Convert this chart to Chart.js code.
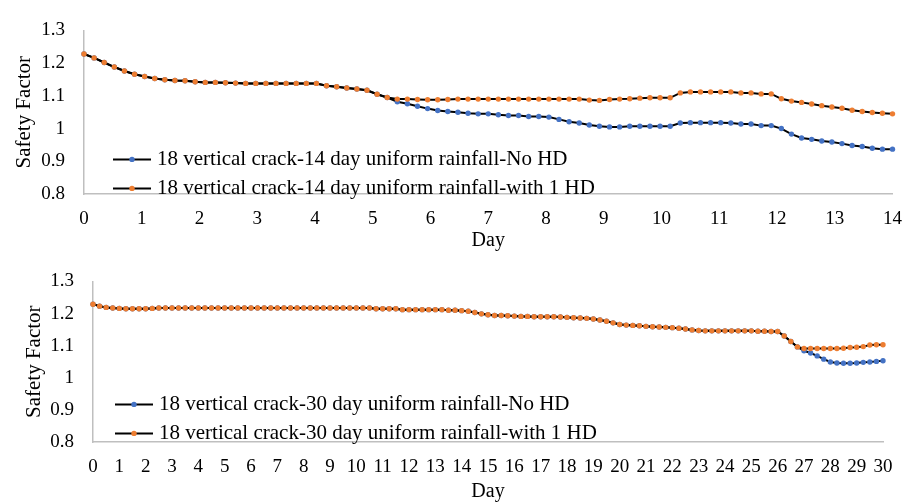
<!DOCTYPE html>
<html>
<head>
<meta charset="utf-8">
<title>Safety Factor</title>
<script src="https://cdn.jsdelivr.net/npm/chart.js@4.4.1/dist/chart.umd.min.js"></script>
<style>
  html, body { margin: 0; padding: 0; background: #fff; }
  .panel { width: 916px; height: 251px; position: relative; }
  canvas { display: block; }
</style>
</head>
<body>
<div class="panel"><canvas id="top" width="916" height="251"></canvas></div>
<div class="panel"><canvas id="bottom" width="916" height="251"></canvas></div>
<script>
// ---- 14 day rainfall (time step 0.175 day) ----
const step14 = 0.175;
const label14NoHD = '18 vertical crack-14 day uniform rainfall-No HD';
const label14HD = '18 vertical crack-14 day uniform rainfall-with 1 HD';
const sf14NoHD = [
  1.228, 1.216, 1.202, 1.188, 1.176, 1.166, 1.159, 1.153, 1.149, 1.147,
  1.146, 1.143, 1.141, 1.141, 1.140, 1.139, 1.138, 1.138, 1.138, 1.138,
  1.138, 1.138, 1.138, 1.138, 1.131, 1.128, 1.124, 1.121, 1.117, 1.105,
  1.095, 1.082, 1.076, 1.068, 1.061, 1.055, 1.052, 1.050, 1.047, 1.045,
  1.045, 1.042, 1.040, 1.040, 1.037, 1.037, 1.035, 1.028, 1.021, 1.017,
  1.011, 1.007, 1.005, 1.005, 1.007, 1.007, 1.007, 1.007, 1.007, 1.017,
  1.018, 1.018, 1.018, 1.018, 1.017, 1.014, 1.014, 1.009, 1.009, 1.000,
  0.983, 0.971, 0.967, 0.962, 0.959, 0.954, 0.948, 0.945, 0.940, 0.937,
  0.937
];
const sf14HD = [
  1.228, 1.216, 1.202, 1.188, 1.176, 1.166, 1.159, 1.153, 1.149, 1.147,
  1.146, 1.143, 1.141, 1.141, 1.140, 1.139, 1.138, 1.138, 1.138, 1.138,
  1.138, 1.138, 1.138, 1.138, 1.131, 1.128, 1.124, 1.121, 1.117, 1.105,
  1.095, 1.090, 1.090, 1.089, 1.088, 1.088, 1.089, 1.090, 1.090, 1.090,
  1.090, 1.090, 1.090, 1.090, 1.090, 1.090, 1.090, 1.090, 1.090, 1.090,
  1.087, 1.086, 1.089, 1.090, 1.091, 1.093, 1.094, 1.094, 1.094, 1.109,
  1.112, 1.112, 1.112, 1.112, 1.112, 1.109, 1.109, 1.106, 1.106, 1.091,
  1.084, 1.080, 1.075, 1.070, 1.066, 1.062, 1.056, 1.052, 1.049, 1.047,
  1.045
];

// ---- 30 day rainfall (time step 0.25 day) ----
const step30 = 0.25;
const label30NoHD = '18 vertical crack-30 day uniform rainfall-No HD';
const label30HD = '18 vertical crack-30 day uniform rainfall-with 1 HD';
const sf30NoHD = [
  1.229, 1.223, 1.219, 1.217, 1.216, 1.215, 1.215, 1.215, 1.215, 1.216,
  1.217, 1.217, 1.217, 1.217, 1.217, 1.217, 1.217, 1.217, 1.217, 1.217,
  1.217, 1.217, 1.217, 1.217, 1.217, 1.217, 1.217, 1.217, 1.217, 1.217,
  1.217, 1.217, 1.217, 1.217, 1.217, 1.217, 1.217, 1.217, 1.217, 1.217,
  1.217, 1.217, 1.217, 1.215, 1.215, 1.215, 1.215, 1.212, 1.212, 1.212,
  1.212, 1.212, 1.212, 1.212, 1.210, 1.210, 1.209, 1.207, 1.203, 1.199,
  1.196, 1.194, 1.194, 1.193, 1.192, 1.191, 1.191, 1.190, 1.190, 1.190,
  1.190, 1.189, 1.188, 1.187, 1.186, 1.185, 1.183, 1.180, 1.176, 1.171,
  1.166, 1.164, 1.163, 1.162, 1.160, 1.159, 1.158, 1.157, 1.156, 1.154,
  1.152, 1.149, 1.147, 1.146, 1.146, 1.146, 1.146, 1.146, 1.146, 1.146,
  1.146, 1.145, 1.145, 1.144, 1.144, 1.130, 1.113, 1.096, 1.084, 1.077,
  1.068, 1.058, 1.049, 1.046, 1.045, 1.045, 1.046, 1.048, 1.049, 1.051,
  1.053
];
const sf30HD = [
  1.229, 1.223, 1.219, 1.217, 1.216, 1.215, 1.215, 1.215, 1.215, 1.216,
  1.217, 1.217, 1.217, 1.217, 1.217, 1.217, 1.217, 1.217, 1.217, 1.217,
  1.217, 1.217, 1.217, 1.217, 1.217, 1.217, 1.217, 1.217, 1.217, 1.217,
  1.217, 1.217, 1.217, 1.217, 1.217, 1.217, 1.217, 1.217, 1.217, 1.217,
  1.217, 1.217, 1.217, 1.215, 1.215, 1.215, 1.215, 1.212, 1.212, 1.212,
  1.212, 1.212, 1.212, 1.212, 1.210, 1.210, 1.209, 1.207, 1.203, 1.199,
  1.196, 1.194, 1.194, 1.193, 1.192, 1.191, 1.191, 1.190, 1.190, 1.190,
  1.190, 1.189, 1.188, 1.187, 1.186, 1.185, 1.183, 1.180, 1.176, 1.171,
  1.166, 1.164, 1.163, 1.162, 1.160, 1.159, 1.158, 1.157, 1.156, 1.154,
  1.152, 1.149, 1.147, 1.146, 1.146, 1.146, 1.146, 1.146, 1.146, 1.146,
  1.146, 1.145, 1.145, 1.144, 1.144, 1.130, 1.113, 1.096, 1.091, 1.091,
  1.091, 1.091, 1.091, 1.091, 1.092, 1.094, 1.095, 1.097, 1.102, 1.103,
  1.103
];

// ---- axis ticks ----
const yTicks = [0.8, 0.9, 1, 1.1, 1.2, 1.3];
const yTickLabels = ['0.8', '0.9', '1', '1.1', '1.2', '1.3'];
const xTicks14 = [0, 1, 2, 3, 4, 5, 6, 7, 8, 9, 10, 11, 12, 13, 14];
const xTicks30 = [0, 1, 2, 3, 4, 5, 6, 7, 8, 9, 10, 11, 12, 13, 14, 15,
                  16, 17, 18, 19, 20, 21, 22, 23, 24, 25, 26, 27, 28, 29, 30];
const yTitle = 'Safety Factor';
const xTitle = 'Day';

const BLUE = '#4472C4';
const ORANGE = '#ED7D31';
const SERIF = '"Liberation Serif", "Times New Roman", serif';

function toPoints(values, stepDay) {
  return values.map((v, i) => ({ x: i * stepDay, y: v }));
}

function series(label, values, stepDay, color, order) {
  return {
    label,
    data: toPoints(values, stepDay),
    borderColor: '#000000',
    borderWidth: 2,
    pointBackgroundColor: color,
    pointBorderWidth: 0,
    pointRadius: 2.7,
    pointHoverRadius: 2.7,
    tension: 0,
    clip: false,
    order
  };
}

// legend drawn inside the plot area, line + marker + text
const seriesKey = {
  id: 'seriesKey',
  afterDatasetsDraw(chart, args, opts) {
    const ctx = chart.ctx;
    const area = chart.chartArea;
    ctx.save();
    ctx.font = opts.font;
    ctx.textBaseline = 'middle';
    ctx.textAlign = 'left';
    opts.entries.forEach((idx, row) => {
      const ds = chart.data.datasets[idx];
      const y = area.top + opts.top + row * opts.rowGap;
      const x0 = area.left + opts.left;
      ctx.strokeStyle = ds.borderColor;
      ctx.lineWidth = ds.borderWidth;
      ctx.beginPath();
      ctx.moveTo(x0, y);
      ctx.lineTo(x0 + opts.lineLen, y);
      ctx.stroke();
      ctx.fillStyle = ds.pointBackgroundColor;
      ctx.beginPath();
      ctx.arc(x0 + opts.lineLen / 2, y, ds.pointRadius, 0, Math.PI * 2);
      ctx.fill();
      ctx.fillStyle = '#000000';
      ctx.fillText(ds.label, x0 + opts.lineLen + opts.gap, y);
    });
    ctx.restore();
  }
};

function makeChart(canvasId, cfg) {
  return new Chart(document.getElementById(canvasId), {
    type: 'line',
    data: { datasets: cfg.datasets },
    options: {
      responsive: false,
      animation: false,
      events: [],
      layout: { padding: { top: cfg.padTop, right: cfg.padRight, bottom: 0, left: 0 } },
      scales: {
        x: {
          type: 'linear',
          min: 0,
          max: cfg.xMax,
          afterFit: (s) => { s.height = cfg.xHeight; },
          afterBuildTicks: (s) => { s.ticks = cfg.xTicks.map(v => ({ value: v })); },
          grid: { display: false, drawTicks: false },
          border: { display: true, color: '#bfbfbf', width: 1.5 },
          ticks: {
            autoSkip: false,
            maxRotation: 0,
            padding: 14,
            color: '#000000',
            font: { family: SERIF, size: 19 },
            callback: (v) => String(v)
          },
          title: {
            display: true,
            text: xTitle,
            color: '#000000',
            padding: { top: 0, bottom: -2 },
            font: { family: SERIF, size: 20 }
          }
        },
        y: {
          min: 0.8,
          max: 1.3,
          afterFit: (s) => { s.width = cfg.yWidth; },
          afterBuildTicks: (s) => { s.ticks = yTicks.map(v => ({ value: v })); },
          grid: { display: false, drawTicks: false },
          border: { display: true, color: '#bfbfbf', width: 1.5 },
          ticks: {
            padding: 19,
            color: '#000000',
            font: { family: SERIF, size: 19 },
            callback: (v) => yTickLabels[yTicks.indexOf(v)] ?? String(v)
          },
          title: {
            display: true,
            text: yTitle,
            color: '#000000',
            padding: { top: cfg.yTitlePad, bottom: 0 },
            font: { family: SERIF, size: 21 }
          }
        }
      },
      plugins: {
        legend: { display: false },
        tooltip: { enabled: false },
        seriesKey: {
          entries: [0, 1],
          font: '21px ' + SERIF,
          left: cfg.keyLeft,
          top: cfg.keyTop,
          rowGap: 29,
          lineLen: 38,
          gap: 6
        }
      }
    },
    plugins: [seriesKey]
  });
}

makeChart('top', {
  datasets: [
    series(label14NoHD, sf14NoHD, step14, BLUE, 1),
    series(label14HD, sf14HD, step14, ORANGE, 0)
  ],
  xMax: 14,
  xTicks: xTicks14,
  padTop: 17,
  padRight: 21,
  xHeight: 57,
  yWidth: 84,
  yTitlePad: 12,
  keyLeft: 29,
  keyTop: 129
});

makeChart('bottom', {
  datasets: [
    series(label30NoHD, sf30NoHD, step30, BLUE, 1),
    series(label30HD, sf30HD, step30, ORANGE, 0)
  ],
  xMax: 30,
  xTicks: xTicks30,
  padTop: 25,
  padRight: 33,
  xHeight: 60,
  yWidth: 93,
  yTitlePad: 22,
  keyLeft: 22,
  keyTop: 123
});
</script>
</body>
</html>
